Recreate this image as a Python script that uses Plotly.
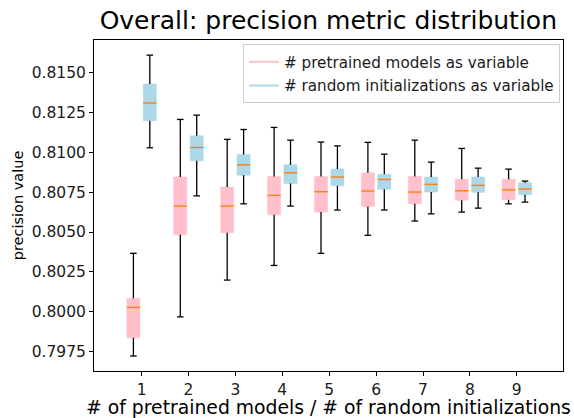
import numpy as np
import plotly.graph_objects as go

positions = [1, 2, 3, 4, 5, 6, 7, 8, 9]
tick_labels = ["1", "2", "3", "4", "5", "6", "7", "8", "9"]

# pretrained models as variable
pre_low = [0.79721, 0.79967, 0.80198, 0.80290, 0.80366, 0.80479, 0.80569, 0.80625, 0.80677]
pre_q1 = [0.79836, 0.80482, 0.80495, 0.80608, 0.80625, 0.80661, 0.80677, 0.80699, 0.80702]
pre_med = [0.80026, 0.80663, 0.80663, 0.80730, 0.80753, 0.80757, 0.80751, 0.80759, 0.80765]
pre_q3 = [0.80083, 0.80845, 0.80782, 0.80849, 0.80849, 0.80872, 0.80849, 0.80832, 0.80832]
pre_high = [0.80366, 0.81207, 0.81082, 0.81157, 0.81065, 0.81063, 0.81077, 0.81025, 0.80895]

# random initializations as variable
rnd_low = [0.81029, 0.80727, 0.80677, 0.80663, 0.80638, 0.80638, 0.80614, 0.80650, 0.80688]
rnd_q1 = [0.81199, 0.80947, 0.80857, 0.80805, 0.80790, 0.80768, 0.80751, 0.80749, 0.80734]
rnd_med = [0.81310, 0.81031, 0.80922, 0.80872, 0.80845, 0.80830, 0.80799, 0.80793, 0.80770]
rnd_q3 = [0.81429, 0.81104, 0.80987, 0.80922, 0.80895, 0.80862, 0.80845, 0.80845, 0.80809]
rnd_high = [0.81611, 0.81234, 0.81144, 0.81077, 0.81041, 0.80989, 0.80939, 0.80901, 0.80820]

OFFSET = 0.175
BOX_W = 0.28
CAP_W = 0.14
FONT = "DejaVu Sans"

fig = go.Figure()


def add_series(name, color, shift, low, q1, med, q3, high, group):
    xs = np.array(positions, dtype=float) + shift
    # whiskers and caps (black)
    wx, wy = [], []
    for x, lo, a, b, hi in zip(xs, low, q1, q3, high):
        wx += [x, x, None, x, x, None,
               x - CAP_W / 2, x + CAP_W / 2, None, x - CAP_W / 2, x + CAP_W / 2, None]
        wy += [lo, a, None, b, hi, None, lo, lo, None, hi, hi, None]
    fig.add_trace(go.Scatter(x=wx, y=wy, mode="lines", line=dict(color="black", width=1.3),
                             showlegend=False, hoverinfo="skip"))
    # boxes
    fig.add_trace(go.Box(x=xs, q1=q1, median=med, q3=q3, lowerfence=q1, upperfence=q3,
                         fillcolor=color, line=dict(color=color, width=0.5), width=BOX_W,
                         name=name, showlegend=False, boxpoints=False))
    # medians (orange)
    mx, my = [], []
    for x, m in zip(xs, med):
        mx += [x - BOX_W / 2, x + BOX_W / 2, None]
        my += [m, m, None]
    fig.add_trace(go.Scatter(x=mx, y=my, mode="lines", line=dict(color="#ff7f0e", width=1.4),
                             showlegend=False, hoverinfo="skip"))
    # legend entry
    fig.add_trace(go.Scatter(x=[None], y=[None], mode="lines", line=dict(color=color, width=2),
                             name=name, legendgroup=group))


add_series("# pretrained models as variable", "pink", -OFFSET,
           pre_low, pre_q1, pre_med, pre_q3, pre_high, "a")
add_series("# random initializations as variable", "lightblue", OFFSET,
           rnd_low, rnd_q1, rnd_med, rnd_q3, rnd_high, "b")

fig.update_layout(
    width=574, height=418,
    margin=dict(l=94, r=11, t=40, b=47, autoexpand=False),
    paper_bgcolor="white", plot_bgcolor="white",
    boxmode="overlay",
    font=dict(family=FONT, size=15, color="#1a1a1a"),
    title=dict(text="Overall: precision metric distribution", x=0.572, xanchor="center",
               y=0.952, yanchor="middle", font=dict(family=FONT, size=25, color="black")),
    legend=dict(x=0.9936, y=0.987, xanchor="right", yanchor="top", itemwidth=30,
                traceorder="grouped", tracegroupgap=1,
                bgcolor="rgba(255,255,255,0.8)", bordercolor="#cccccc", borderwidth=1,
                font=dict(family=FONT, size=15.2, color="#1a1a1a")),
    showlegend=True,
)

fig.update_xaxes(range=[-0.015, 9.985], tickmode="array", tickvals=positions, ticktext=tick_labels,
                 ticks="outside", ticklen=4, tickcolor="black", showline=True, linecolor="black",
                 linewidth=1, mirror=True, showgrid=False, zeroline=False, automargin=False,
                 title=dict(text="# of pretrained models / # of random initializations",
                            font=dict(family=FONT, size=18.8, color="black"), standoff=2),
                 tickfont=dict(family=FONT, size=15.5, color="#1a1a1a"))
fig.update_yaxes(range=[0.79627, 0.81706], tickmode="array",
                 tickvals=[0.7975, 0.8, 0.8025, 0.805, 0.8075, 0.81, 0.8125, 0.815],
                 tickformat=".4f",
                 ticks="outside", ticklen=4, tickcolor="black", showline=True, linecolor="black",
                 linewidth=1, mirror=True, showgrid=False, zeroline=False, automargin=False,
                 title=dict(text="precision value", font=dict(family=FONT, size=14.5, color="black"),
                            standoff=4),
                 tickfont=dict(family=FONT, size=15.5, color="#1a1a1a"))

fig.write_html("out.html", config={"displayModeBar": False},
               post_script="document.body.style.margin='0';document.body.style.overflow='hidden';")
